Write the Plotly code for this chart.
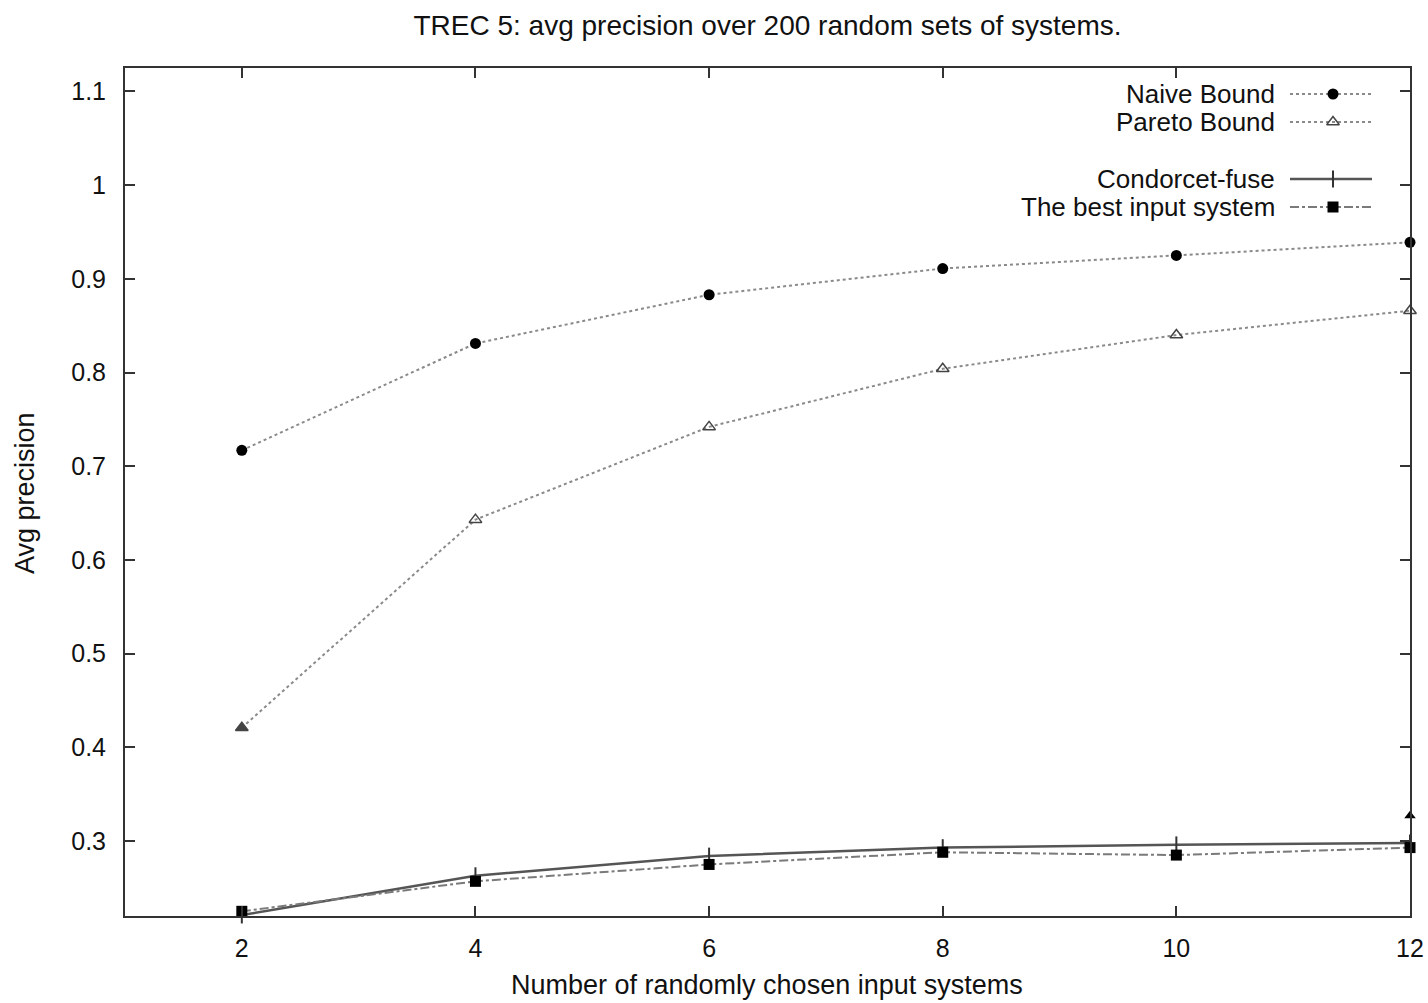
import plotly.graph_objects as go

# data
n_systems = [2, 4, 6, 8, 10, 12]
naive_bound = [0.717, 0.831, 0.883, 0.911, 0.925, 0.939]
pareto_bound = [0.421, 0.643, 0.742, 0.804, 0.840, 0.866]
condorcet_fuse = [0.221, 0.263, 0.284, 0.293, 0.296, 0.298]
best_input = [0.225, 0.257, 0.275, 0.288, 0.285, 0.293]
stray_x = [12]
stray_y = [0.327]

y_ticks = [0.3, 0.4, 0.5, 0.6, 0.7, 0.8, 0.9, 1.0, 1.1]
y_ticklabels = ['0.3', '0.4', '0.5', '0.6', '0.7', '0.8', '0.9', '1', '1.1']
x_ticks = [2, 4, 6, 8, 10, 12]

legend_names = ['Naive Bound', 'Pareto Bound', 'Condorcet-fuse', 'The best input system']

FONT = 'Liberation Sans, Arial, sans-serif'
W, H = 1428, 1003
PL, PR, PT, PB = 125, 1410, 68, 916   # plot box in page pixels
L, T, R, B = PL, PT, W - PR, H - PB

styles = [
    dict(line=dict(color='#8a8a8a', width=2, dash='dot'),
         marker=dict(symbol='circle', size=11, color='black')),
    dict(line=dict(color='#8a8a8a', width=2, dash='dot'),
         marker=dict(symbol=['triangle-up'] + ['triangle-up-open'] * 5, size=11,
                     color='#444444', line=dict(width=1.5, color='#444444'))),
    dict(line=dict(color='#555555', width=2.5),
         marker=dict(symbol='line-ns', size=12, line=dict(width=2, color='#333333'))),
    dict(line=dict(color='#7a7a7a', width=2, dash='dashdot'),
         marker=dict(symbol='square', size=11, color='black')),
]
series = [naive_bound, pareto_bound, condorcet_fuse, best_input]

fig = go.Figure()
for name, ys, st in zip(legend_names, series, styles):
    fig.add_trace(go.Scatter(x=n_systems, y=ys, mode='lines+markers', name=name,
                             line=st['line'], marker=st['marker'], showlegend=False, cliponaxis=False))

fig.add_trace(go.Scatter(x=stray_x, y=stray_y, mode='markers', showlegend=False, cliponaxis=False,
                         marker=dict(symbol='triangle-up', size=10, color='black')))

# gnuplot-style key: text on the left, sample on the right (pixel overlay axes)
key_rows = [94, 122, 179, 207]
text_right = 1277
sample_x0, sample_x1, sample_mid = 1290, 1372, 1333
for name, row, st in zip(legend_names, key_rows, styles):
    fig.add_annotation(x=text_right, y=row, xref='x2', yref='y2', text=name, showarrow=False,
                       xanchor='right', yanchor='middle', font=dict(family=FONT, size=26, color='#111111'))
    fig.add_trace(go.Scatter(x=[sample_x0, sample_x1], y=[row, row], xaxis='x2', yaxis='y2',
                             mode='lines', line=st['line'], showlegend=False, hoverinfo='skip'))
    mk = dict(st['marker'])
    if isinstance(mk.get('symbol'), list):
        mk['symbol'] = 'triangle-up-open'
    fig.add_trace(go.Scatter(x=[sample_mid], y=[row], xaxis='x2', yaxis='y2',
                             mode='markers', marker=mk, showlegend=False, hoverinfo='skip'))

# axis titles as annotations in paper coords
pw, ph = PR - PL, PB - PT
fig.add_annotation(x=(25 - PL) / pw, y=(PB - 493) / ph, xref='paper', yref='paper', text='Avg precision',
                   textangle=-90, showarrow=False, xanchor='center', yanchor='middle',
                   font=dict(family=FONT, size=27, color='#111111'))
fig.add_annotation(x=(767 - PL) / pw, y=(PB - 985) / ph, xref='paper', yref='paper',
                   text='Number of randomly chosen input systems', showarrow=False,
                   xanchor='center', yanchor='middle', font=dict(family=FONT, size=27, color='#111111'))

axis_common = dict(showgrid=False, zeroline=False, showline=True, linecolor='#333333', linewidth=2,
                   mirror='ticks', ticks='inside', ticklen=10, tickwidth=2, tickcolor='#333333',
                   automargin=False, ticklabeloverflow='allow',
                   tickfont=dict(family=FONT, size=25, color='#111111'))

fig.update_layout(
    width=W, height=H,
    paper_bgcolor='white', plot_bgcolor='white',
    margin=dict(l=L, r=R, t=T, b=B),
    title=dict(text='TREC 5: avg precision over 200 random sets of systems.', x=0.5, xanchor='center',
               xref='paper', y=1 - 25 / H, yanchor='middle',
               font=dict(family=FONT, size=28, color='#111111')),
    xaxis=dict(range=[1, 12], tickvals=x_ticks, ticklabelstandoff=9, **axis_common),
    yaxis=dict(range=[0.22, 1.125], tickvals=y_ticks, ticktext=y_ticklabels, ticklabelstandoff=12,
               **axis_common),
    xaxis2=dict(overlaying='x', range=[PL, PR], visible=False, fixedrange=True),
    yaxis2=dict(overlaying='y', range=[PB, PT], visible=False, fixedrange=True),
)

fig.write_html("out.html", config=dict(displayModeBar=False),
               post_script="document.body.style.margin='0';document.body.style.overflow='hidden';")
